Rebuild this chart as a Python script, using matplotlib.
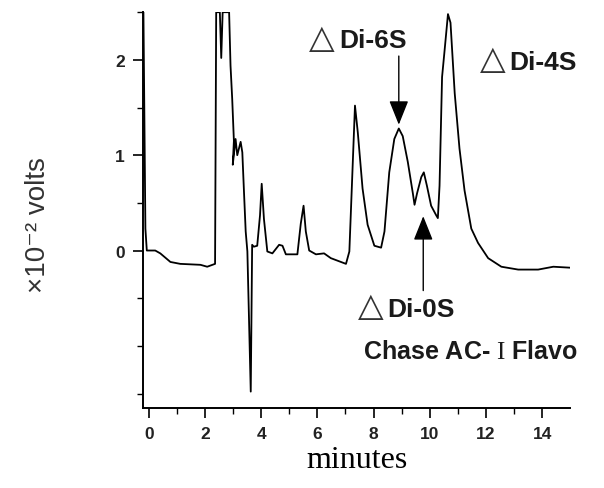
import numpy as np
import matplotlib
matplotlib.use("Agg")
import matplotlib.pyplot as plt

# chromatogram trace (minutes, x10^-2 volts)
minutes = [-0.19, -0.12, -0.07, 0.23, 0.41, 0.77, 1.12, 1.84, 2.08, 2.36,
           2.40, 2.53, 2.58, 2.63, 2.86, 2.91, 2.97, 3.03, 2.99, 3.09, 3.15,
           3.27, 3.33, 3.39, 3.45, 3.51, 3.63, 3.68, 3.74, 3.86, 3.96, 4.02,
           4.10, 4.22, 4.40, 4.64, 4.76, 4.88, 5.29, 5.41, 5.51, 5.59, 5.71,
           5.95, 6.24, 6.48, 7.02, 7.14, 7.34, 7.44, 7.61, 7.79, 8.03, 8.27,
           8.39, 8.56, 8.74, 8.90, 9.04, 9.22, 9.40, 9.46, 9.55, 9.70, 9.79,
           9.90, 10.05, 10.23, 10.29, 10.35, 10.44, 10.53, 10.65, 10.74,
           10.89, 11.06, 11.24, 11.48, 11.72, 12.08, 12.55, 13.15, 13.86,
           14.40, 14.99]
signal = [2.50, 0.23, 0.00, 0.00, -0.03, -0.12, -0.14, -0.15, -0.17, -0.14,
          2.50, 2.50, 2.02, 2.50, 2.50, 1.94, 1.59, 1.15, 0.90, 1.17, 1.00,
          1.14, 1.03, 0.61, 0.20, -0.01, -1.48, 0.06, 0.04, 0.05, 0.37, 0.70,
          0.33, -0.01, -0.03, 0.06, 0.05, -0.04, -0.04, 0.28, 0.47, 0.20,
          0.00, -0.04, -0.03, -0.08, -0.14, -0.01, 1.52, 1.24, 0.65, 0.27,
          0.05, 0.03, 0.20, 0.82, 1.17, 1.28, 1.20, 0.93, 0.60, 0.48, 0.60,
          0.77, 0.82, 0.68, 0.47, 0.37, 0.34, 0.68, 1.82, 2.10, 2.48, 2.39,
          1.65, 1.07, 0.63, 0.23, 0.08, -0.08, -0.17, -0.20, -0.20, -0.17,
          -0.18]

x_ticks = [0, 2, 4, 6, 8, 10, 12, 14]
y_ticks = [0, 1, 2]

# peak names, where the label sits, and where its arrow points
peak_names = ['Di-6S', 'Di-4S', 'Di-0S']
label_t = [6.77, 12.84, 8.50]
label_v = [2.21, 1.98, -0.61]

sans = ['Liberation Sans', 'DejaVu Sans']
plt.rcParams['mathtext.fontset'] = 'custom'
plt.rcParams['mathtext.rm'] = 'Liberation Serif'

fig = plt.figure(figsize=(6.04, 4.89), dpi=100)
ax = fig.add_axes([0.237, 0.164, 0.707, 0.809])

ax.plot(minutes, signal, color='black', lw=1.3)

ax.set_xlim(-0.2, 15.0)
ax.set_ylim(-1.65, 2.5)
ax.spines['top'].set_visible(False)
ax.spines['right'].set_visible(False)
ax.spines['left'].set_linewidth(1.4)
ax.spines['bottom'].set_linewidth(1.4)

ax.set_xticks(x_ticks)
ax.set_xticks(np.arange(0, 15, 1), minor=True)
ax.set_yticks(y_ticks)
ax.set_yticks(np.arange(-1.5, 2.51, 0.5), minor=True)
ax.tick_params(which='major', direction='out', length=7, width=1.2,
               labelsize=12.5, pad=6)
ax.tick_params(which='minor', direction='out', length=4, width=1)
for lab in ax.get_xticklabels() + ax.get_yticklabels():
    lab.set_family(sans)
    lab.set_fontweight('bold')
    lab.set_color('#222222')

ax.set_xlabel('minutes', family='Liberation Serif', fontsize=23, labelpad=3)
fig.text(0.063, 0.54, '×10⁻² volts', rotation=90, ha='center',
         va='center', fontsize=20, family=sans, color='#333333')

# peak labels: thin open triangle followed by bold name
for name, t, v in zip(peak_names, label_t, label_v):
    ax.annotate('△', xy=(t, v), xytext=(-3, 2), textcoords='offset points',
                fontsize=24, family=['DejaVu Sans'], ha='right', va='center',
                color='#333333')
    ax.text(t, v, name, fontsize=19, fontweight='bold', family=sans,
            ha='left', va='center', color='#1a1a1a')

head = dict(arrowstyle='-|>,head_width=0.3,head_length=0.75',
            mutation_scale=20, color='black', lw=1.0, shrinkA=0, shrinkB=0)
ax.annotate('', xy=(8.9, 1.32), xytext=(8.9, 2.04), arrowprops=head)
ax.annotate('', xy=(9.77, 0.36), xytext=(9.77, -0.42), arrowprops=head)

ax.text(11.45, -1.05, r'Chase AC- $\mathrm{I}$ Flavo', fontsize=18,
        fontweight='bold', family=sans, ha='center', va='center',
        color='#1a1a1a')

fig.savefig('out.png', dpi=100)
